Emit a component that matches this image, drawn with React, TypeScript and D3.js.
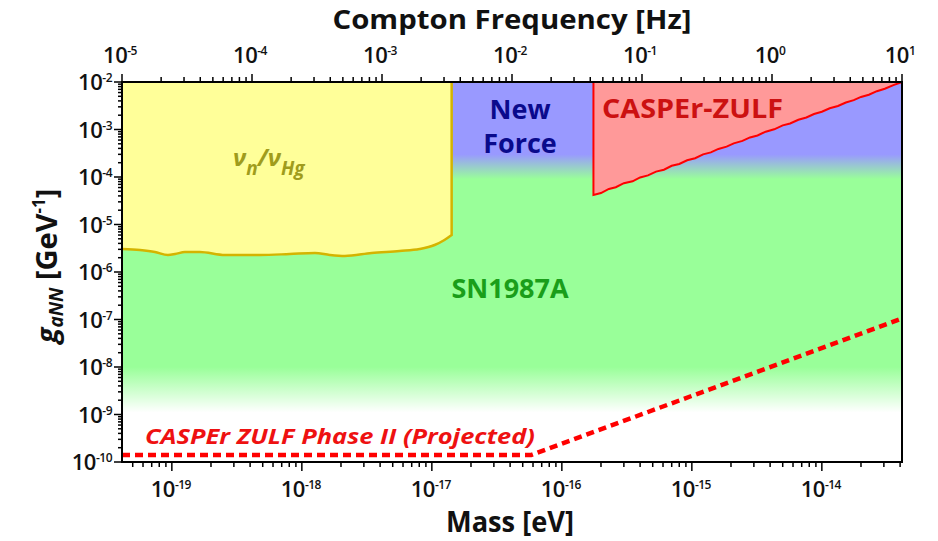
import React from "react";
import * as d3 from "d3";

const W = 938;
const H = 541;
const M = { left: 122, right: 902, top: 82, bottom: 462 };

const HZ_PER_EV = 2.418e14;
const freqDomain = [1e-5, 1e1];
const massDomain = [freqDomain[0] / HZ_PER_EV, freqDomain[1] / HZ_PER_EV];
const gDomain = [1e-10, 1e-2];

const freqTickExps = [-5, -4, -3, -2, -1, 0, 1];
const massTickExps = [-19, -18, -17, -16, -15, -14];
const gTickExps = [-2, -3, -4, -5, -6, -7, -8, -9, -10];

// nu_n / nu_Hg exclusion boundary (lower edge)
const yellowMass = [4.14e-20, 5.69e-20, 7.41e-20, 9.33e-20, 1.06e-19, 1.26e-19, 1.64e-19, 2.56e-19, 4.75e-19, 8.07e-19, 1.26e-18, 1.64e-18, 2.14e-18, 3.44e-18, 5.65e-18, 8.05e-18, 1.05e-17, 1.25e-17, 1.42e-17];
const yellowG = [3.05e-6, 2.9e-6, 2.64e-6, 2.28e-6, 2.39e-6, 2.64e-6, 2.64e-6, 2.28e-6, 2.28e-6, 2.39e-6, 2.51e-6, 2.28e-6, 2.17e-6, 2.51e-6, 2.77e-6, 3.05e-6, 3.7e-6, 4.72e-6, 6.01e-6];

// CASPEr-ZULF measured limit
const zulfMass = [1.75e-16, 2.0e-16, 2.3e-16, 2.6e-16, 3.0e-16, 3.5e-16, 4.0e-16, 4.6e-16, 5.3e-16, 6.1e-16, 7.0e-16, 8.0e-16, 9.2e-16, 1.06e-15, 1.22e-15, 1.4e-15, 1.6e-15, 1.85e-15, 2.1e-15, 2.45e-15, 2.8e-15, 3.2e-15, 3.7e-15, 4.3e-15, 5.0e-15, 5.7e-15, 6.6e-15, 7.6e-15, 8.7e-15, 1.0e-14, 1.15e-14, 1.33e-14, 1.53e-14, 1.76e-14, 2.0e-14, 2.3e-14, 2.65e-14, 3.05e-14, 3.55e-14, 4.14e-14];
const zulfG = [4.2e-5, 4.6e-5, 5.6e-5, 6.1e-5, 7.4e-5, 8.1e-5, 9.8e-5, 1.08e-4, 1.3e-4, 1.42e-4, 1.72e-4, 1.88e-4, 2.25e-4, 2.48e-4, 3.0e-4, 3.3e-4, 3.9e-4, 4.35e-4, 5.1e-4, 5.75e-4, 6.8e-4, 7.5e-4, 9.0e-4, 1.01e-3, 1.22e-3, 1.34e-3, 1.6e-3, 1.79e-3, 2.12e-3, 2.36e-3, 2.8e-3, 3.12e-3, 3.7e-3, 4.15e-3, 4.85e-3, 5.4e-3, 6.4e-3, 7.2e-3, 8.6e-3, 1.0e-2];

// CASPEr ZULF Phase II projection
const phase2Mass = [massDomain[0], 5.8e-17, massDomain[1]];
const phase2G = [1.4e-10, 1.4e-10, 1.05e-7];

// background bands (New Force / SN1987A)
const bandG = [1e-2, 3e-4, 9e-5, 1e-8, 1.1e-9, 1e-10];
const bandColor = ["#9999ff", "#9999ff", "#99ff99", "#99ff99", "#ffffff", "#ffffff"];

const FONT = "'Open Sans', 'Noto Sans', sans-serif";

export default function App() {
  const xMass = d3.scaleLog().domain(massDomain).range([M.left, M.right]);
  const xFreq = d3.scaleLog().domain(freqDomain).range([M.left, M.right]);
  const y = d3.scaleLog().domain(gDomain).range([M.bottom, M.top]);

  const isMajor = (v: number) => Math.abs(Math.log10(v) - Math.round(Math.log10(v))) < 1e-6;

  const yellowPts: [number, number][] = yellowMass.map((m, i) => [xMass(m), y(yellowG[i])]);
  const lineGen = d3.line().curve(d3.curveMonotoneX);
  const yellowEdge = lineGen(yellowPts) as string;
  const lastY = yellowPts[yellowPts.length - 1];
  const yellowFill =
    `M${xMass(massDomain[0])},${y(gDomain[1])}L` +
    yellowEdge.slice(1) +
    `L${lastY[0]},${y(gDomain[1])}Z`;
  const yellowStroke = yellowEdge + `L${lastY[0]},${y(gDomain[1])}`;

  const zulfPts: [number, number][] = zulfMass.map((m, i) => [xMass(m), y(zulfG[i])]);
  const zulfLine = d3.line()(zulfPts) as string;
  const zulfFill = `M${zulfPts[0][0]},${y(gDomain[1])}L` + zulfLine.slice(1) + "Z";
  const zulfStroke = `M${zulfPts[0][0]},${y(gDomain[1])}L` + zulfLine.slice(1);

  const phase2 = d3.line()(phase2Mass.map((m, i) => [xMass(m), y(phase2G[i])] as [number, number])) as string;

  const freqTicks = xFreq.ticks();
  const massTicks = xMass.ticks();
  const gTicks = y.ticks();

  const tickLabel = (e: number) => (
    <>
      <tspan>10</tspan>
      <tspan fontSize={12} dy={-8}>{e}</tspan>
    </>
  );

  return (
    <svg width={W} height={H} style={{ position: "absolute", left: 0, top: 0, background: "#fff" }} fontFamily={FONT}>
      <defs>
        <linearGradient id="bg" gradientUnits="userSpaceOnUse" x1={0} y1={M.top} x2={0} y2={M.bottom}>
          {bandG.map((g, i) => (
            <stop key={i} offset={(y(g) - M.top) / (M.bottom - M.top)} stopColor={bandColor[i]} />
          ))}
        </linearGradient>
      </defs>

      <rect x={M.left} y={M.top} width={M.right - M.left} height={M.bottom - M.top} fill="url(#bg)" />

      <path d={yellowFill} fill="#ffff99" />
      <path d={yellowStroke} fill="none" stroke="#d4b400" strokeWidth={2.5} />

      <path d={zulfFill} fill="#ff9999" />
      <path d={zulfStroke} fill="none" stroke="#ff0000" strokeWidth={2} />

      <path d={phase2} fill="none" stroke="#ff0000" strokeWidth={4.5} strokeDasharray="8,5" />

      {/* labels */}
      <text x={233} y={166} fill="#a09c1c" fontSize={24} fontWeight={700} fontStyle="italic">
        ν<tspan fontSize={19} dy={9}>n</tspan>
        <tspan dy={-9}>/ν</tspan>
        <tspan fontSize={19} dy={9}>Hg</tspan>
      </text>
      <text x={520} y={119} fill="#0a0a8c" fontSize={27} fontWeight={700} textAnchor="middle">New</text>
      <text x={520} y={153} fill="#0a0a8c" fontSize={27} fontWeight={700} textAnchor="middle">Force</text>
      <text x={602} y={118} fill="#cc1111" fontSize={27} fontWeight={700} textLength={181} lengthAdjust="spacingAndGlyphs">CASPEr-ZULF</text>
      <text x={510} y={298} fill="#1a9e1a" fontSize={27} fontWeight={700} textAnchor="middle">SN1987A</text>
      <text x={145} y={444} fill="#ee1111" fontSize={22} fontWeight={700} fontStyle="italic" textLength={390} lengthAdjust="spacingAndGlyphs">
        CASPEr ZULF Phase II (Projected)
      </text>

      {/* frame */}
      <rect x={M.left} y={M.top} width={M.right - M.left} height={M.bottom - M.top} fill="none" stroke="#000" strokeWidth={2} />

      {/* top axis ticks */}
      {freqTicks.map((v, i) => (
        <line key={"ft" + i} x1={xFreq(v)} x2={xFreq(v)} y1={M.top} y2={M.top - (isMajor(v) ? 8 : 5)} stroke="#000" strokeWidth={1.5} />
      ))}
      {/* bottom axis ticks */}
      {massTicks.map((v, i) => (
        <line key={"mt" + i} x1={xMass(v)} x2={xMass(v)} y1={M.bottom} y2={M.bottom + (isMajor(v) ? 9 : 5)} stroke="#000" strokeWidth={1.5} />
      ))}
      {/* left axis ticks */}
      {gTicks.map((v, i) => (
        <line key={"gt" + i} y1={y(v)} y2={y(v)} x1={M.left} x2={M.left - (isMajor(v) ? 8 : 4)} stroke="#000" strokeWidth={1.5} />
      ))}

      {/* tick labels */}
      {freqTickExps.map((e) => (
        <text key={"fl" + e} x={xFreq(Math.pow(10, e)) - 2} y={63} fontSize={22} fontWeight={600} textAnchor="middle" fill="#111" letterSpacing={-0.5}>
          {tickLabel(e)}
        </text>
      ))}
      {massTickExps.map((e) => (
        <text key={"ml" + e} x={xMass(Math.pow(10, e)) - 1} y={497} fontSize={22} fontWeight={600} textAnchor="middle" fill="#111" letterSpacing={-0.5}>
          {tickLabel(e)}
        </text>
      ))}
      {gTickExps.map((e) => (
        <text key={"gl" + e} x={M.left - 10} y={y(Math.pow(10, e)) + 8} fontSize={22} fontWeight={600} textAnchor="end" fill="#111" letterSpacing={-0.5}>
          {tickLabel(e)}
        </text>
      ))}

      {/* axis titles */}
      <text x={512} y={29} fontSize={27} fontWeight={700} textAnchor="middle" textLength={359} lengthAdjust="spacingAndGlyphs" fill="#111">
        Compton Frequency [Hz]
      </text>
      <text x={510} y={532} fontSize={28} fontWeight={700} textAnchor="middle" textLength={128} lengthAdjust="spacingAndGlyphs" fill="#111">
        Mass [eV]
      </text>
      <text transform="translate(57,266) rotate(-90)" fontSize={29} fontWeight={700} textAnchor="middle" fill="#111">
        <tspan fontStyle="italic">g</tspan>
        <tspan fontStyle="italic" fontSize={19} dy={6}>aNN</tspan>
        <tspan dy={-6}> [GeV</tspan>
        <tspan fontSize={17} dy={-12}>-1</tspan>
        <tspan dy={12}>]</tspan>
      </text>
    </svg>
  );
}
